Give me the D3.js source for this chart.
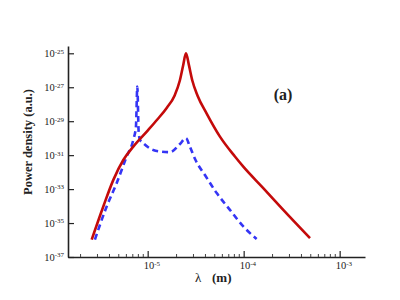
<!DOCTYPE html>
<html>
<head>
<meta charset="utf-8">
<script src="https://cdn.jsdelivr.net/npm/d3@7"></script>
<style>
  body { margin: 0; background: #fff; }
  svg { display: block; font-family: "Liberation Serif", serif; }
  text, tspan { font-family: "Liberation Serif", serif; fill: #222; }
</style>
</head>
<body>
<div id="chart"></div>
<script>
// chart size
var svgWidth = 400;
var svgHeight = 300;

// solid red curve: wavelength (m) and power density (a.u.)
var redLambda = [2.61e-6, 3.45e-6, 4.39e-6, 5.57e-6, 7.08e-6, 1.0e-5, 1.26e-5, 1.585e-5, 1.905e-5,
  2.163e-5, 2.344e-5, 2.506e-5, 2.69e-5, 2.917e-5, 3.31e-5, 4.12e-5, 5.66e-5, 8.11e-5, 9.91e-5,
  1.60e-4, 2.585e-4, 4.91e-4];
var redPower = [1.05e-36, 9.5e-35, 3.5e-33, 5.2e-32, 3.2e-31, 2.8e-30, 1.26e-29, 6.3e-29, 3.2e-28,
  2.5e-27, 2.0e-26, 1.0e-25, 2.0e-26, 2.5e-27, 3.2e-28, 2.8e-29, 1.23e-30, 8.3e-32, 2.1e-32,
  1.15e-33, 6.0e-35, 1.3e-36];

// dashed blue curve
var blueLambda = [2.82e-6, 3.74e-6, 4.75e-6, 6.04e-6, 7.08e-6, 7.55e-6, 7.80e-6, 8.05e-6, 8.32e-6,
  8.99e-6, 1.143e-5, 1.41e-5, 1.71e-5, 2.17e-5, 2.506e-5, 2.75e-5, 3.16e-5, 3.98e-5, 5.24e-5,
  7.19e-5, 9.91e-5, 1.365e-4];
var bluePower = [1.05e-36, 9.5e-35, 2.24e-33, 8.3e-32, 7.9e-31, 4.8e-30, 1.1e-27, 2.5e-30, 7.9e-31,
  5.1e-31, 2.0e-31, 1.6e-31, 1.5e-31, 4.5e-31, 1.0e-30, 3.2e-31, 5.0e-32, 6.3e-33, 5.8e-34,
  6.0e-35, 6.3e-36, 1.15e-36];

// tick values
var xMajorTicks = [1e-5, 1e-4, 1e-3];
var yTicks = [1e-37, 1e-35, 1e-33, 1e-31, 1e-29, 1e-27, 1e-25];

var svg = d3.select("#chart")
  .append("svg")
  .attr("width", svgWidth)
  .attr("height", svgHeight);

var xScale = d3.scaleLog()
  .domain([Math.pow(10, -5.83), Math.pow(10, -2.736)])
  .range([68, 365]);

var yScale = d3.scaleLog()
  .domain([1e-37, Math.pow(10, -24.57)])
  .range([257, 46]);

// minor x ticks 2..9 per decade
var xMinorTicks = [];
[-6, -5, -4, -3].forEach(function(e) {
  for (var m = 2; m <= 9; m++) {
    var v = m * Math.pow(10, e);
    if (v > xScale.domain()[0] && v < xScale.domain()[1]) xMinorTicks.push(v);
  }
});

// superscript labels "10^n"
function powerLabel(sel) {
  sel.each(function(d) {
    var t = d3.select(this).text("");
    t.append("tspan").text("10");
    t.append("tspan")
      .attr("dy", "-0.5em")
      .style("font-size", "7px")
      .text(Math.round(Math.log10(d)));
  });
}

// x axis
var xAxis = svg.append("g")
  .attr("transform", "translate(0, 257)")
  .call(d3.axisBottom(xScale).tickValues(xMajorTicks).tickSizeInner(-6).tickSizeOuter(0).tickPadding(5));
xAxis.attr("font-family", "Liberation Serif");
xAxis.select(".domain").attr("stroke", "#222").attr("stroke-width", 1.6);
xAxis.selectAll(".tick line").attr("stroke", "#222").attr("stroke-width", 1.2);
xAxis.selectAll(".tick text").style("font-size", "10.5px").attr("fill", "#222").call(powerLabel)
  .attr("dx", "0.35em");

svg.append("g")
  .selectAll("line")
  .data(xMinorTicks)
  .enter()
  .append("line")
  .attr("x1", d => xScale(d))
  .attr("x2", d => xScale(d))
  .attr("y1", 257)
  .attr("y2", 254)
  .attr("stroke", "#444")
  .attr("stroke-width", 1);

// y axis
var yAxis = svg.append("g")
  .attr("transform", "translate(68, 0)")
  .call(d3.axisLeft(yScale).tickValues(yTicks).tickSizeInner(-6).tickSizeOuter(0).tickPadding(4));
yAxis.attr("font-family", "Liberation Serif");
yAxis.select(".domain").attr("stroke", "#222").attr("stroke-width", 1.6);
yAxis.selectAll(".tick line").attr("stroke", "#222").attr("stroke-width", 1.2);
yAxis.selectAll(".tick text").style("font-size", "10.5px").attr("fill", "#222").call(powerLabel);

// curves
var line = d3.line()
  .x(d => xScale(d[0]))
  .y(d => yScale(d[1]))
  .curve(d3.curveMonotoneX);

svg.append("path")
  .datum(d3.zip(blueLambda, bluePower))
  .attr("d", line)
  .attr("fill", "none")
  .attr("stroke", "#3535f5")
  .attr("stroke-width", 2.6)
  .attr("stroke-dasharray", "6,4");

svg.append("path")
  .datum(d3.zip(redLambda, redPower))
  .attr("d", line)
  .attr("fill", "none")
  .attr("stroke", "#c40a0a")
  .attr("stroke-width", 2.6);

// axis titles
svg.append("text")
  .attr("transform", "translate(32, 142) rotate(-90)")
  .attr("text-anchor", "middle")
  .style("font-size", "12.5px")
  .style("font-weight", "bold")
  .text("Power density (a.u.)");

var xTitle = svg.append("text")
  .attr("x", 195)
  .attr("y", 282)
  .style("font-size", "13px");
xTitle.append("tspan").text("\u03bb");
xTitle.append("tspan")
  .attr("x", 212)
  .style("font-weight", "bold")
  .text("(m)");

// panel label
svg.append("text")
  .attr("x", 283)
  .attr("y", 100)
  .attr("text-anchor", "middle")
  .style("font-size", "16px")
  .style("font-weight", "bold")
  .text("(a)");
</script>
</body>
</html>
